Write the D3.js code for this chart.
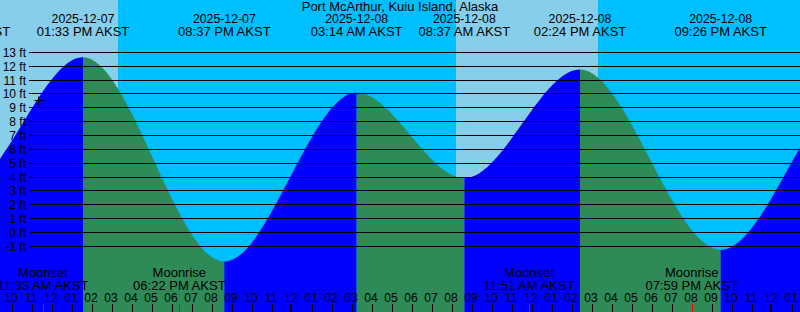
<!DOCTYPE html>
<html><head><meta charset="utf-8">
<script src="https://cdn.jsdelivr.net/npm/d3@7"></script>
<style>
html,body{margin:0;padding:0;background:#fff}
svg{display:block}
text{font-family:"Liberation Sans",Arial,Helvetica,sans-serif;font-size:13px;fill:#000}
text.num{font-size:12px}
text.date{font-size:12.3px}
</style>
</head><body>
<svg id="chart" width="800" height="312"></svg>
<script>
// ---- data (AKST wall-clock times) ----
const title = "Port McArthur, Kuiu Island, Alaska";
const tideTimes   = ["2025-12-07T01:20","2025-12-07T07:37","2025-12-07T13:33","2025-12-07T20:37","2025-12-08T03:14","2025-12-08T08:37","2025-12-08T14:24","2025-12-08T21:26","2025-12-09T04:14","2025-12-09T09:40"];
const tideHeights = [11.0, 3.27, 12.65, -2.1, 10.1, 3.92, 11.76, -1.25, 10.6, 4.2];
const sunriseTimes = ["2025-12-07T08:12","2025-12-08T08:12"];
const sunsetTimes  = ["2025-12-07T15:18","2025-12-08T15:18"];
const moonTimes = ["2025-12-07T11:33","2025-12-07T18:22","2025-12-08T11:51","2025-12-08T19:59"];
const moonNames = ["Moonset","Moonrise","Moonset","Moonrise"];
const yTicks = [-1,0,1,2,3,4,5,6,7,8,9,10,11,12,13];
const domainTimes = ["2025-12-07T09:24","2025-12-09T01:24"];
const nowTime = "2025-12-07T11:17";
const nowHeight = 9.55;
const tz = "AKST";

// ---- setup ----
const W = 800, H = 312;
const parse = d3.utcParse("%Y-%m-%dT%H:%M");
const svg = d3.select("#chart");
const x = d3.scaleUtc().domain(domainTimes.map(parse)).range([0, W]);
const y = d3.scaleLinear().domain([-1, 13]).range([246.36, 52.36]);

const tides = tideTimes.map((t, i) => ({t: parse(t), h: tideHeights[i]}));

// background: night then day
svg.append("rect").attr("width", W).attr("height", H).attr("fill", "#00BFFF");
svg.selectAll("rect.day").data(sunriseTimes).enter().append("rect")
  .attr("class", "day")
  .attr("x", d => Math.max(0, x(parse(d))))
  .attr("width", (d, i) => x(parse(sunsetTimes[i])) - Math.max(0, x(parse(d))))
  .attr("y", 0).attr("height", H).attr("fill", "#87CEEB");

// water
const area = d3.area().x(d => x(d.t)).y0(H).y1(d => y(d.h)).curve(d3.curveMonotoneX);
const defs = svg.append("defs");
for (let i = 0; i < tides.length - 1; i++) {
  const a = tides[i], b = tides[i + 1];
  defs.append("clipPath").attr("id", "seg" + i).append("rect")
    .attr("x", x(a.t)).attr("width", x(b.t) - x(a.t)).attr("y", 0).attr("height", H);
  svg.append("path").datum(tides).attr("d", area)
    .attr("clip-path", `url(#seg${i})`)
    .attr("fill", b.h > a.h ? "#0000FF" : "#2E8B57");
}

// grid lines + labels
svg.selectAll("line.grid").data(yTicks).enter().append("line")
  .attr("x1", 29).attr("x2", W)
  .attr("y1", d => Math.floor(y(d)) + 0.5).attr("y2", d => Math.floor(y(d)) + 0.5)
  .attr("stroke", "#000").attr("stroke-width", 1);
svg.selectAll("text.yl").data(yTicks).enter().append("text")
  .attr("class", "num")
  .attr("x", 26).attr("y", d => Math.floor(y(d)) + 5)
  .attr("text-anchor", "end").text(d => d + " ft");

// now marker
const nx = Math.round(x(parse(nowTime))) + 0.5, ny = Math.round(y(nowHeight)) + 0.5;
svg.append("path").attr("d", `M${nx - 4},${ny}H${nx + 5}M${nx},${ny - 4}V${ny + 5}`)
  .attr("stroke", "#000").attr("stroke-width", 1);

// title + tide event labels
svg.append("text").attr("x", W / 2).attr("y", 11).attr("text-anchor", "middle").text(title);
const fDate = d3.utcFormat("%Y-%m-%d"), fTime = d3.utcFormat("%I:%M %p");
const ev = svg.selectAll("g.ev").data(tides).enter().append("g");
ev.append("text").attr("class", "date").attr("x", d => x(d.t)).attr("y", 23).attr("text-anchor", "middle").text(d => fDate(d.t));
ev.append("text").attr("x", d => x(d.t)).attr("y", 35.5).attr("text-anchor", "middle").text(d => fTime(d.t) + " " + tz);

// hour ticks and labels
const hours = d3.utcHour.range(...domainTimes.map(parse));
svg.selectAll("text.hr").data(hours).enter().append("text")
  .attr("class", "num")
  .attr("x", d => x(d) - 1).attr("y", 302).attr("text-anchor", "middle")
  .text(d => d3.utcFormat("%I")(d));
svg.selectAll("line.tk").data(hours).enter().append("line")
  .attr("x1", d => d.getUTCHours() === 0 ? Math.round(x(d)) - 1 : Math.round(x(d)) + 0.5)
  .attr("x2", d => d.getUTCHours() === 0 ? Math.round(x(d)) - 1 : Math.round(x(d)) + 0.5)
  .attr("y1", 304).attr("y2", H)
  .attr("stroke", "#000").attr("stroke-width", d => d.getUTCHours() === 0 ? 2 : 1);

// moon events
const moons = moonTimes.map((t, i) => ({t: parse(t), name: moonNames[i]}));
const mg = svg.selectAll("g.moon").data(moons).enter().append("g");
mg.append("text").attr("x", d => x(d.t)).attr("y", 277).attr("text-anchor", "middle").text(d => d.name);
mg.append("text").attr("x", d => x(d.t)).attr("y", 290).attr("text-anchor", "middle").text(d => fTime(d.t) + " " + tz);
mg.append("line")
  .attr("x1", d => Math.round(x(d.t)) + 0.5).attr("x2", d => Math.round(x(d.t)) + 0.5)
  .attr("y1", 304).attr("y2", H).attr("stroke", "#FF0000").attr("stroke-width", 1);
</script>
</body></html>
